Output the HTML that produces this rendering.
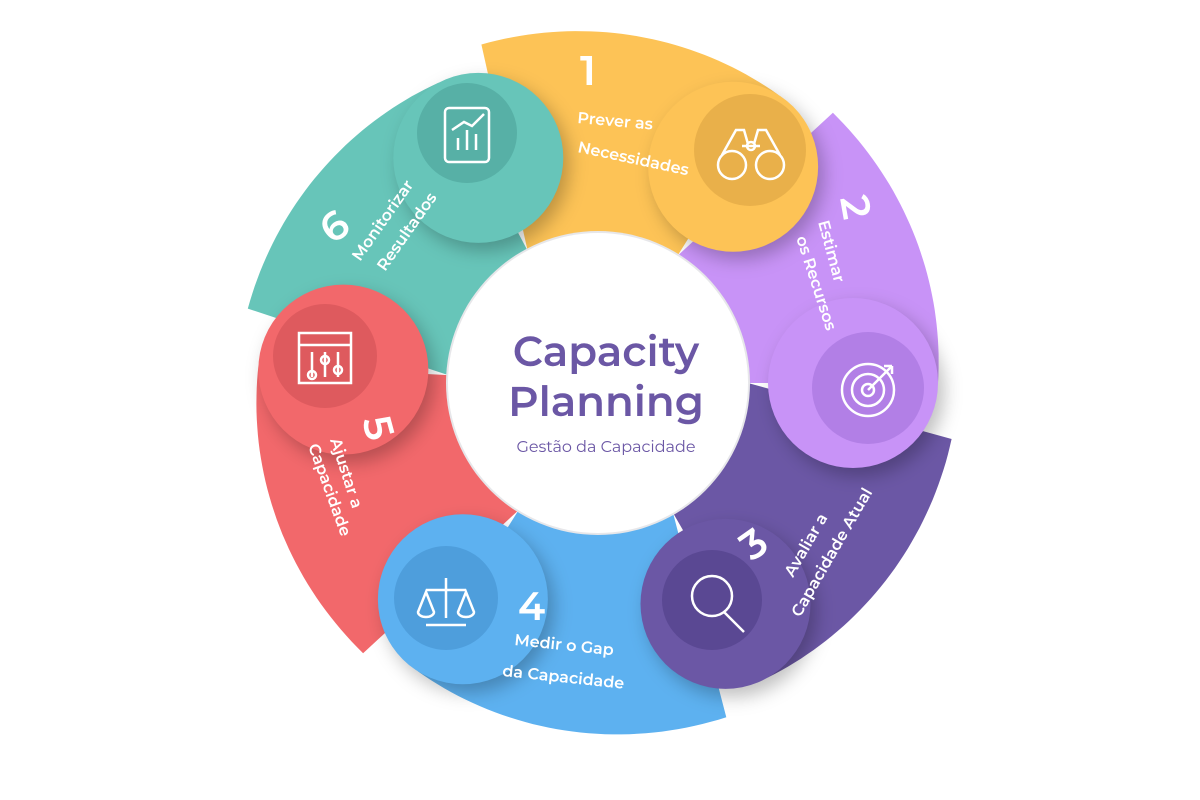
<!DOCTYPE html>
<html><head><meta charset="utf-8">
<style>
html,body{margin:0;padding:0;background:#fff;}
svg{display:block;font-family:"Montserrat","Liberation Sans",sans-serif;}
.w{fill:#fff;font-weight:600;}
</style></head>
<body>
<svg id="s" width="1200" height="800" viewBox="0 0 1200 800" xmlns="http://www.w3.org/2000/svg">
<defs>
<filter id="sh" x="-50%" y="-50%" width="200%" height="200%"><feGaussianBlur stdDeviation="9"/></filter>
<radialGradient id="ig" cx="50%" cy="50%" r="50%">
<stop offset="0.8" stop-color="#fff"/><stop offset="1" stop-color="#e6e6e9"/></radialGradient>
</defs>
<g id="bodies"></g>
<g id="caps"></g>
<circle cx="598" cy="383" r="152" fill="url(#ig)"/>
<circle cx="598" cy="383" r="150" fill="#fff"/>
<!-- icon circles -->
<circle cx="750" cy="150" r="56" fill="#E9B04A"/>
<circle cx="868" cy="388" r="56" fill="#B27FE6"/>
<circle cx="712" cy="600" r="50" fill="#5A4893"/>
<circle cx="446" cy="598" r="52" fill="#4E9EDC"/>
<circle cx="325" cy="356" r="52" fill="#DE5A5E"/>
<circle cx="467" cy="133" r="50" fill="#57B0A6"/>
<!-- icons -->
<g fill="none" stroke="#fff" stroke-width="2.5">
 <circle cx="732" cy="165" r="14"/><circle cx="770" cy="165" r="14"/><path d="M722 155l14-25h8l4 14M780 155l-14-25h-8l-4 14M742 146h18"/><circle cx="751" cy="146" r="4"/>
 <circle cx="868" cy="390" r="26"/><circle cx="868" cy="390" r="16"/><circle cx="868" cy="390" r="6"/><path d="M868 390l24-24m0 0h-8m8 0v8"/>
 <circle cx="712" cy="596" r="20"/><path d="M724 612l20 20"/>
 <path d="M446 578v40M426 590h40M418 612a8 5 0 0 0 16 0l-8-20zM458 612a8 5 0 0 0 16 0l-8-20zM426 625h40"/>
 <rect x="299" y="333" width="52" height="50"/><path d="M299 345h52M312 352v25M325 352v25M338 352v25"/><circle cx="312" cy="375" r="4"/><circle cx="325" cy="360" r="4"/><circle cx="338" cy="370" r="4"/>
 <rect x="445" y="108" width="44" height="54" rx="4"/><path d="M458 150v-12M467 150v-20M476 150v-16M452 130l12-8 8 4 12-12"/>
</g>
<!-- labels -->
<text class="w" x="580" y="85" font-size="42">1</text>
<text class="w" font-size="16" transform="translate(577 123) rotate(5)">Prever as</text>
<text class="w" font-size="16" transform="translate(577 152) rotate(12)">Necessidades</text>

<text class="w" font-size="40" transform="translate(840 198) rotate(80)">2</text>
<text class="w" font-size="16" transform="translate(818 222) rotate(75)">Estimar</text>
<text class="w" font-size="16" transform="translate(796 238) rotate(72)">os Recursos</text>

<text class="w" font-size="40" transform="translate(752 562) rotate(-35)">3</text>
<text class="w" font-size="16" transform="translate(793 578) rotate(-60)">Avaliar a</text>
<text class="w" font-size="16" transform="translate(800 618) rotate(-60)">Capacidade Atual</text>

<text class="w" x="518" y="620" font-size="40">4</text>
<text class="w" font-size="16" transform="translate(514 645) rotate(6)">Medir o Gap</text>
<text class="w" font-size="16" transform="translate(502 676) rotate(6)">da Capacidade</text>

<text class="w" font-size="40" transform="translate(362 420) rotate(75)">5</text>
<text class="w" font-size="16" transform="translate(330 440) rotate(72)">Ajustar a</text>
<text class="w" font-size="16" transform="translate(308 446) rotate(70)">Capacidade</text>

<text class="w" font-size="40" transform="translate(332 245) rotate(-35)">6</text>
<text class="w" font-size="16" transform="translate(360 262) rotate(-55)">Monitorizar</text>
<text class="w" font-size="16" transform="translate(385 272) rotate(-55)">Resultados</text>

<text x="606" y="366" text-anchor="middle" font-size="42" font-weight="600" fill="#6B57A5">Capacity</text>
<text x="606" y="416" text-anchor="middle" font-size="42" font-weight="600" fill="#6B57A5">Planning</text>
<text x="606" y="452" text-anchor="middle" font-size="16" fill="#6B57A5">Gestão da Capacidade</text>
</svg>
<script>
(function(){
var cx=598,cy=383,ri=150,rm=255,rc=85;
var cols=["#FDC356","#C893F7","#6B57A5","#5DB1F0","#F2686B","#67C5B9"];
var caps=[32,90,150,212,273,332];
function P(r,a){a=a*Math.PI/180;return [(cx+r*Math.sin(a)),(cy-r*Math.cos(a))];}
var b=document.getElementById('bodies'),c=document.getElementById('caps'),ns="http://www.w3.org/2000/svg";
for(var i=0;i<6;i++){
 var e=caps[i],p=caps[(i+5)%6]; if(p>e)p-=360;
 var s=p+9, pts=[];
 var N=40;
 for(var k=0;k<=N;k++){var a=s+(e-s)*k/N;var r=358+(rm+rc-358)*k/N;pts.push(P(r,a));}
 for(var k=0;k<=N;k++){var a=e-(e-p)*k/N;pts.push(P(ri,a));}
 var d="M"+pts.map(function(q){return q[0].toFixed(1)+" "+q[1].toFixed(1);}).join("L")+"Z";
 var el=document.createElementNS(ns,'path');el.setAttribute('d',d);el.setAttribute('fill',cols[i]);b.appendChild(el);
 var q=P(rm,e);
 var sh=document.createElementNS(ns,'circle');sh.setAttribute('cx',q[0]+6);sh.setAttribute('cy',q[1]+8);sh.setAttribute('r',rc);sh.setAttribute('fill','rgba(0,0,0,0.25)');sh.setAttribute('filter','url(#sh)');c.appendChild(sh);
 var ci=document.createElementNS(ns,'circle');ci.setAttribute('cx',q[0]);ci.setAttribute('cy',q[1]);ci.setAttribute('r',rc);ci.setAttribute('fill',cols[i]);c.appendChild(ci);
}
})();
</script>
</body></html>
